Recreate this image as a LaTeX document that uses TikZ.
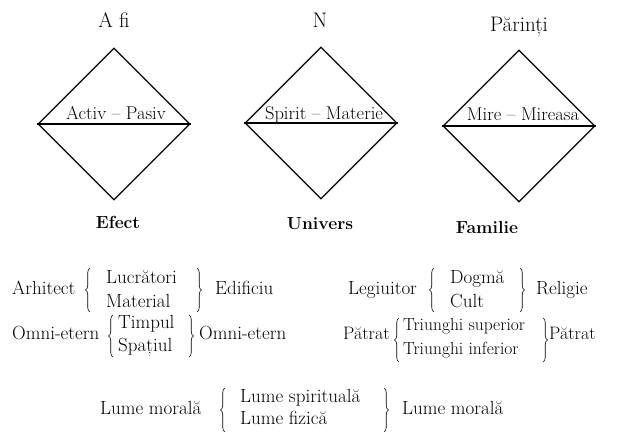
\documentclass[tikz,border=0pt]{standalone}
\usepackage{fontspec}
\usetikzlibrary{shapes.geometric,decorations.pathreplacing}
\begin{document}
\begin{tikzpicture}[x=1pt,y=-1pt,
  dia/.style={diamond,draw,line width=1.1pt,minimum width=152pt,minimum height=152pt,inner sep=0pt},
  split/.style={line width=1.1pt},
  txt/.style={font=\fontsize{19}{22}\selectfont,inner sep=0pt,anchor=base west},
  sml/.style={font=\fontsize{17.5}{21}\selectfont,inner sep=0pt,anchor=base west},
  lab/.style={font=\fontsize{18.5}{22}\selectfont,inner sep=0pt,anchor=base},
  head/.style={font=\fontsize{21}{24}\selectfont,inner sep=0pt,anchor=base},
  foot/.style={font=\bfseries\fontsize{17.5}{21}\selectfont,inner sep=0pt,anchor=base},
  brc/.style={decorate,decoration={brace,amplitude=4.5pt},line width=0.6pt}]
\useasboundingbox (0,0) rectangle (627,436);
% diamonds
\node[dia] (d1) at (114,124) {};
\node[dia] (d2) at (321,123) {};
\node[dia] (d3) at (519,126) {};
\draw[split] (d1.west) -- (d1.east);
\draw[split] (d2.west) -- (d2.east);
\draw[split] (d3.west) -- (d3.east);
% heads
\node[head] (h1) at (114,28) {A fi};
\node[head] (h2) at (320,28) {N};
\node[head] (h3) at (519,32) {Părinți};
% labels on split lines
\node[lab] (l1) at (116,119) {Activ – Pasiv};
\node[lab] (l2) at (324,119) {Spirit – Materie};
\node[lab] (l3) at (523,121) {Mire – Mireasa};
% foot labels
\node[foot] (f1) at (118,228) {Efect};
\node[foot] (f2) at (320,229) {Univers};
\node[foot] (f3) at (487,233) {Familie};
% row 1 left
\node[txt] (a1) at (12,294) {Arhitect};
\draw[brc] (90,312) -- (90,268);
\node[txt] (a2) at (106,283) {Lucrători};
\node[txt] (a3) at (106,307) {Material};
\draw[brc] (197,268) -- (197,312);
\node[txt] (a4) at (215,294) {Edificiu};
% row 1 right
\node[txt] (b1) at (348,294) {Legiuitor};
\draw[brc] (434,312) -- (434,268);
\node[txt] (b2) at (450,283) {Dogmă};
\node[txt] (b3) at (450,307) {Cult};
\draw[brc] (520,268) -- (520,312);
\node[txt] (b4) at (536,294) {Religie};
% row 2 left
\node[txt] (c1) at (12,339) {Omni-etern};
\draw[brc] (113,357) -- (113,315);
\node[txt] (c2) at (118,328) {Timpul};
\node[txt] (c3) at (118,351) {Spațiul};
\draw[brc] (189,315) -- (189,357);
\node[txt] (c4) at (199,339) {Omni-etern};
% row 2 right
\node[txt,font=\fontsize{18}{22}\selectfont] (e1) at (343,339) {Pătrat};
\draw[brc] (399,362) -- (399,318);
\node[sml] (e2) at (403,330) {Triunghi superior};
\node[sml] (e3) at (403,354) {Triunghi inferior};
\draw[brc] (543,318) -- (543,362);
\node[txt,font=\fontsize{18}{22}\selectfont] (e4) at (549,339) {Pătrat};
% row 3
\node[txt] (g1) at (100,414) {Lume morală};
\draw[brc] (225,432) -- (225,388);
\node[txt] (g2) at (240,402) {Lume spirituală};
\node[txt] (g3) at (240,424) {Lume fizică};
\draw[brc] (384,388) -- (384,432);
\node[txt] (g4) at (402,414) {Lume morală};
\end{tikzpicture}
\end{document}
